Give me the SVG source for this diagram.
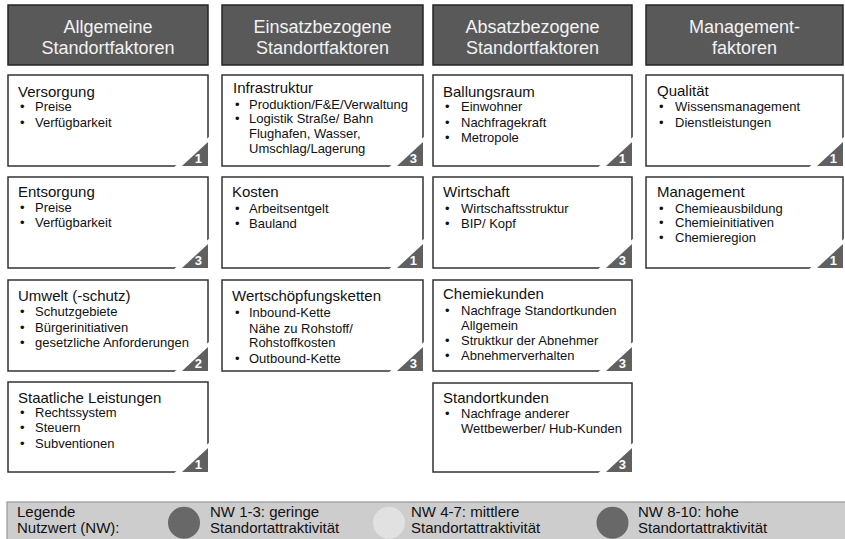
<svg xmlns="http://www.w3.org/2000/svg" width="845" height="539" viewBox="0 0 845 539">
<style>
text{font-family:"Liberation Sans",Arial,sans-serif;}
.hdr rect{fill:#595959;stroke:#262626;stroke-width:1.5;}
.hdr text{fill:#f2f2f2;font-size:18px;text-anchor:middle;}
.box rect{fill:#fff;stroke:#333;stroke-width:1.5;}
.t{font-size:15px;fill:#111;}
.b{font-size:13px;fill:#111;}
.cov{fill:#fff;}
.tri{fill:#606060;}
.num{font-size:13px;font-weight:bold;fill:#fff;text-anchor:end;}
.lg{font-size:15px;fill:#111;}
</style>
<rect width="845" height="539" fill="#fff"/>

<!-- headers -->
<g id="h1" class="hdr"><rect x="8" y="5" width="200" height="60"/><text x="108" y="33">Allgemeine</text><text x="108" y="53.5">Standortfaktoren</text></g>
<g id="h2" class="hdr"><rect x="222" y="5" width="201" height="60"/><text x="322.5" y="33">Einsatzbezogene</text><text x="322.5" y="53.5">Standortfaktoren</text></g>
<g id="h3" class="hdr"><rect x="433" y="5" width="199" height="60"/><text x="532.5" y="33">Absatzbezogene</text><text x="532.5" y="53.5">Standortfaktoren</text></g>
<g id="h4" class="hdr"><rect x="646" y="5" width="197" height="60"/><text x="744.5" y="33">Management-</text><text x="744.5" y="53.5">faktoren</text></g>

<!-- column 1 -->
<g id="versorgung" class="box"><rect x="8" y="75" width="200" height="91"/>
<text class="t" x="18" y="96.5">Versorgung</text>
<text class="b" x="20" y="111">•</text><text class="b" x="35" y="111">Preise</text>
<text class="b" x="20" y="127">•</text><text class="b" x="35" y="127">Verfügbarkeit</text>
<polygon class="cov" points="173,168 210,168 210,136"/><polygon class="tri" points="182,166 208,166 208,142"/><text class="num" x="202" y="163">1</text></g>

<g id="entsorgung" class="box"><rect x="8" y="177" width="200" height="91"/>
<text class="t" x="18" y="197">Entsorgung</text>
<text class="b" x="20" y="212">•</text><text class="b" x="35" y="212">Preise</text>
<text class="b" x="20" y="227">•</text><text class="b" x="35" y="227">Verfügbarkeit</text>
<polygon class="cov" points="173,270 210,270 210,238"/><polygon class="tri" points="182,268 208,268 208,244"/><text class="num" x="202" y="265">3</text></g>

<g id="umwelt" class="box"><rect x="8" y="280" width="200" height="91"/>
<text class="t" x="18" y="300.5">Umwelt (-schutz)</text>
<text class="b" x="20" y="316">•</text><text class="b" x="35" y="316">Schutzgebiete</text>
<text class="b" x="20" y="331.5">•</text><text class="b" x="35" y="331.5">Bürgerinitiativen</text>
<text class="b" x="20" y="347">•</text><text class="b" x="35" y="347">gesetzliche Anforderungen</text>
<polygon class="cov" points="173,373 210,373 210,341"/><polygon class="tri" points="182,371 208,371 208,347"/><text class="num" x="202" y="368">2</text></g>

<g id="staatliche" class="box"><rect x="8" y="382" width="200" height="90"/>
<text class="t" x="18" y="402.5">Staatliche Leistungen</text>
<text class="b" x="20" y="417">•</text><text class="b" x="35" y="417">Rechtssystem</text>
<text class="b" x="20" y="432">•</text><text class="b" x="35" y="432">Steuern</text>
<text class="b" x="20" y="447.5">•</text><text class="b" x="35" y="447.5">Subventionen</text>
<polygon class="cov" points="173,474 210,474 210,442"/><polygon class="tri" points="182,472 208,472 208,448"/><text class="num" x="202" y="469">1</text></g>

<!-- column 2 -->
<g id="infrastruktur" class="box"><rect x="222" y="75" width="201" height="91"/>
<text class="t" x="233" y="93">Infrastruktur</text>
<text class="b" x="235" y="108.5">•</text><text class="b" x="249" y="108.5">Produktion/F&amp;E/Verwaltung</text>
<text class="b" x="235" y="123.3">•</text><text class="b" x="249" y="123.3">Logistik Straße/ Bahn</text>
<text class="b" x="249" y="138">Flughafen, Wasser,</text>
<text class="b" x="249" y="152.7">Umschlag/Lagerung</text>
<polygon class="cov" points="388,168 425,168 425,136"/><polygon class="tri" points="397,166 423,166 423,142"/><text class="num" x="417" y="163">3</text></g>

<g id="kosten" class="box"><rect x="222" y="177" width="201" height="91"/>
<text class="t" x="232" y="197">Kosten</text>
<text class="b" x="235" y="212.5">•</text><text class="b" x="249" y="212.5">Arbeitsentgelt</text>
<text class="b" x="235" y="227.5">•</text><text class="b" x="249" y="227.5">Bauland</text>
<polygon class="cov" points="388,270 425,270 425,238"/><polygon class="tri" points="397,268 423,268 423,244"/><text class="num" x="417" y="265">1</text></g>

<g id="wertschoepfung" class="box"><rect x="222" y="280" width="201" height="91"/>
<text class="t" x="232" y="300.5">Wertschöpfungsketten</text>
<text class="b" x="235" y="317">•</text><text class="b" x="249" y="317">Inbound-Kette</text>
<text class="b" x="249" y="332.5">Nähe zu Rohstoff/</text>
<text class="b" x="249" y="347">Rohstoffkosten</text>
<text class="b" x="235" y="362.5">•</text><text class="b" x="249" y="362.5">Outbound-Kette</text>
<polygon class="cov" points="388,373 425,373 425,341"/><polygon class="tri" points="397,371 423,371 423,347"/><text class="num" x="417" y="368">3</text></g>

<!-- column 3 -->
<g id="ballungsraum" class="box"><rect x="433" y="75" width="199" height="91"/>
<text class="t" x="443" y="96.5">Ballungsraum</text>
<text class="b" x="445" y="111">•</text><text class="b" x="461" y="111">Einwohner</text>
<text class="b" x="445" y="126.5">•</text><text class="b" x="461" y="126.5">Nachfragekraft</text>
<text class="b" x="445" y="141.8">•</text><text class="b" x="461" y="141.8">Metropole</text>
<polygon class="cov" points="597,168 634,168 634,136"/><polygon class="tri" points="606,166 632,166 632,142"/><text class="num" x="626" y="163">1</text></g>

<g id="wirtschaft" class="box"><rect x="433" y="177" width="199" height="91"/>
<text class="t" x="443" y="197">Wirtschaft</text>
<text class="b" x="445" y="213">•</text><text class="b" x="461" y="213">Wirtschaftsstruktur</text>
<text class="b" x="445" y="228">•</text><text class="b" x="461" y="228">BIP/ Kopf</text>
<polygon class="cov" points="597,270 634,270 634,238"/><polygon class="tri" points="606,268 632,268 632,244"/><text class="num" x="626" y="265">3</text></g>

<g id="chemiekunden" class="box"><rect x="433" y="280" width="199" height="91"/>
<text class="t" x="443" y="298.5">Chemiekunden</text>
<text class="b" x="445" y="315">•</text><text class="b" x="461" y="315">Nachfrage Standortkunden</text>
<text class="b" x="461" y="330">Allgemein</text>
<text class="b" x="445" y="345">•</text><text class="b" x="461" y="345">Struktkur der Abnehmer</text>
<text class="b" x="445" y="360">•</text><text class="b" x="461" y="360">Abnehmerverhalten</text>
<polygon class="cov" points="597,373 634,373 634,341"/><polygon class="tri" points="606,371 632,371 632,347"/><text class="num" x="626" y="368">3</text></g>

<g id="standortkunden" class="box"><rect x="433" y="383" width="199" height="89"/>
<text class="t" x="443" y="403">Standortkunden</text>
<text class="b" x="445" y="418">•</text><text class="b" x="461" y="418">Nachfrage anderer</text>
<text class="b" x="461" y="433">Wettbewerber/ Hub-Kunden</text>
<polygon class="cov" points="597,474 634,474 634,442"/><polygon class="tri" points="606,472 632,472 632,448"/><text class="num" x="626" y="469">3</text></g>

<!-- column 4 -->
<g id="qualitaet" class="box"><rect x="646" y="75" width="197" height="91"/>
<text class="t" x="657" y="95.5">Qualität</text>
<text class="b" x="659" y="111">•</text><text class="b" x="675" y="111">Wissensmanagement</text>
<text class="b" x="659" y="126.5">•</text><text class="b" x="675" y="126.5">Dienstleistungen</text>
<polygon class="cov" points="808,168 845,168 845,136"/><polygon class="tri" points="817,166 843,166 843,142"/><text class="num" x="837" y="163">1</text></g>

<g id="management" class="box"><rect x="646" y="177" width="197" height="91"/>
<text class="t" x="657" y="196.5">Management</text>
<text class="b" x="659" y="212.5">•</text><text class="b" x="675" y="212.5">Chemieausbildung</text>
<text class="b" x="659" y="227">•</text><text class="b" x="675" y="227">Chemieinitiativen</text>
<text class="b" x="659" y="242">•</text><text class="b" x="675" y="242">Chemieregion</text>
<polygon class="cov" points="808,270 845,270 845,238"/><polygon class="tri" points="817,268 843,268 843,244"/><text class="num" x="837" y="265">1</text></g>

<g id="connectors"></g>

<!-- legend -->
<g id="legend">
<rect x="7" y="502" width="840" height="40" fill="#cdcdcd" stroke="#999" stroke-width="1.2"/>
<text class="lg" x="17" y="516.5">Legende</text>
<text class="lg" x="17" y="533">Nutzwert (NW):</text>
<circle cx="184" cy="522.7" r="16" fill="#686868"/>
<text class="lg" x="210" y="516.5">NW 1-3: geringe</text>
<text class="lg" x="210" y="533">Standortattraktivität</text>
<circle cx="389" cy="522.7" r="16" fill="#e1e1e1"/>
<text class="lg" x="411" y="516.5">NW 4-7: mittlere</text>
<text class="lg" x="411" y="533">Standortattraktivität</text>
<circle cx="612.5" cy="522.7" r="16" fill="#686868"/>
<text class="lg" x="638" y="516.5">NW 8-10: hohe</text>
<text class="lg" x="638" y="533">Standortattraktivität</text>
</g>
</svg>
